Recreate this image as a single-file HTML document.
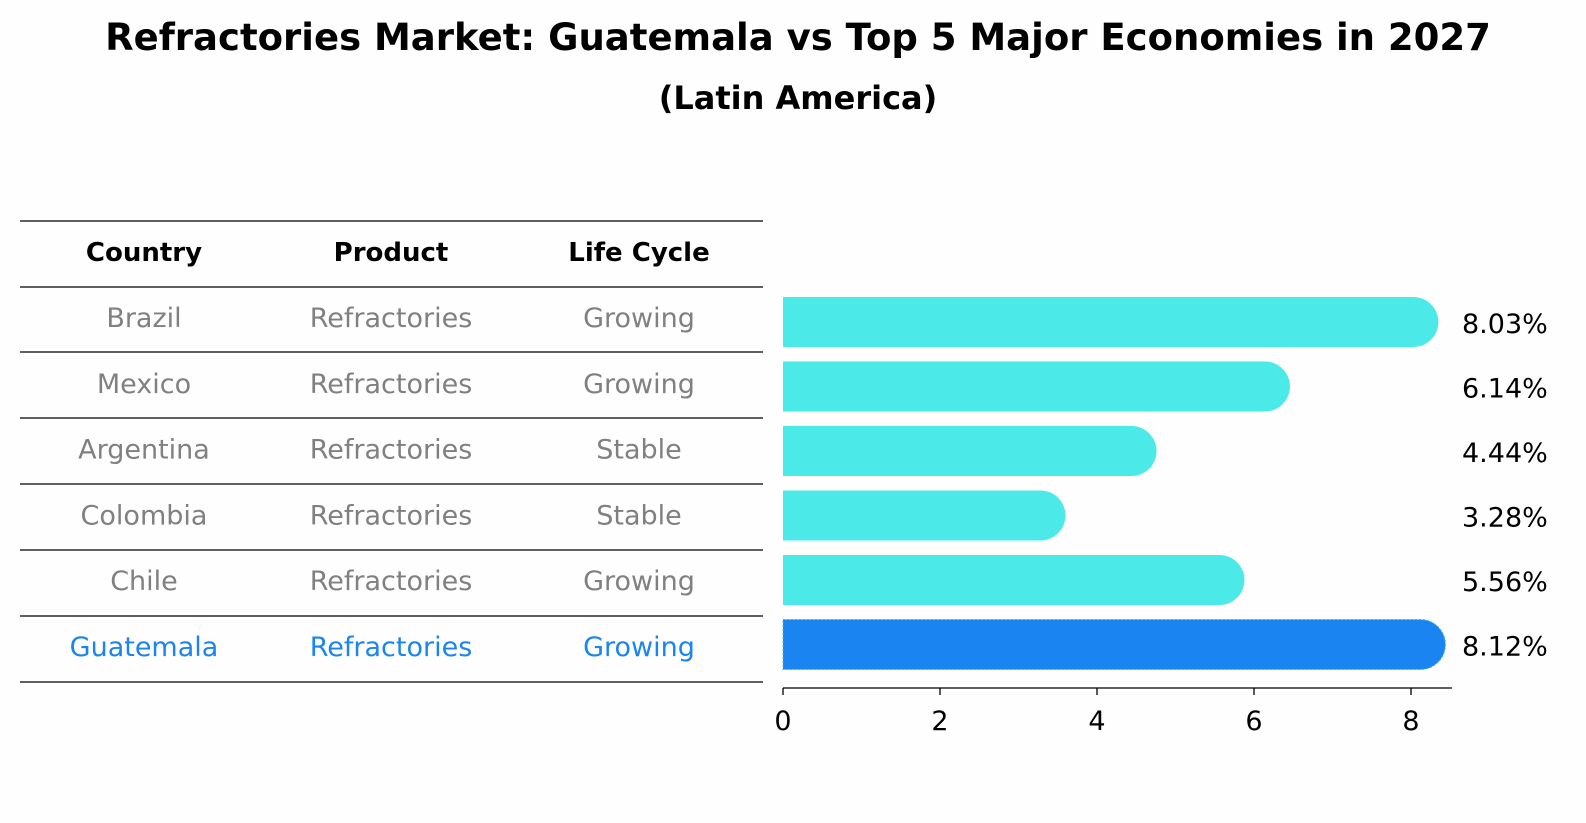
<!DOCTYPE html>
<html><head><meta charset="utf-8"><style>
html,body{margin:0;padding:0;overflow:hidden;background:#fff;width:1586px;height:823px;}
svg{display:block;}
svg text{font-family:"DejaVu Sans","Liberation Sans",sans-serif;}
</style></head><body>
<svg width="1586" height="823" xmlns="http://www.w3.org/2000/svg">
<rect width="1586" height="823" fill="#fefefe"/>
<text x="798" y="50" text-anchor="middle" font-size="37" font-weight="bold">Refractories Market: Guatemala vs Top 5 Major Economies in 2027</text>
<text x="798" y="109" text-anchor="middle" font-size="32" font-weight="bold">(Latin America)</text>
<g id="table"></g>
<g id="bars"></g>
</svg>
<script>
const countries=["Brazil","Mexico","Argentina","Colombia","Chile","Guatemala"];
const products=["Refractories","Refractories","Refractories","Refractories","Refractories","Refractories"];
const cycles=["Growing","Growing","Stable","Stable","Growing","Growing"];
const values=[8.03,6.14,4.44,3.28,5.56,8.12];
const ticks=[0,2,4,6,8];
const NS="http://www.w3.org/2000/svg";
function mk(tag,attrs,parent){const e=document.createElementNS(NS,tag);for(const k in attrs)e.setAttribute(k,attrs[k]);parent.appendChild(e);return e;}
const tbl=document.getElementById('table'),bars=document.getElementById('bars');
const lineYs=[221,287,352,418,484,550,616,682];
lineYs.forEach(y=>{const l=mk('line',{x1:20,x2:763,y1:y,y2:y,stroke:'#000','stroke-width':1.2},tbl);

});
const colX=[144,391,639];
["Country","Product","Life Cycle"].forEach((h,i)=>{const t=mk('text',{x:colX[i],y:261,'text-anchor':'middle','font-size':26,'font-weight':'bold'},tbl);t.textContent=h;

});
const xs=v=>783+v*78.5;
const rowY=i=>322+i*64.5;
countries.forEach((c,i)=>{
 const last=i===countries.length-1;
 const col=last?'#1a85f0':'#808080';
 [c,products[i],cycles[i]].forEach((s,j)=>{const t=mk('text',{x:colX[j],y:(327+i*65.8).toFixed(1),'text-anchor':'middle','font-size':27,fill:col},tbl);
 t.textContent=s;
 
 });
 const y=rowY(i),h=50,r=25,x1=xs(values[i]);
 const p=mk('path',{d:`M${xs(0)},${y-h/2} H${x1} A${r},${r} 0 0 1 ${x1},${y+h/2} H${xs(0)} Z`,fill:last?'#1a85f0':'#4beae8'},bars);
 if(last){p.setAttribute('stroke','#4bb0f0');p.setAttribute('stroke-dasharray','2,2');p.setAttribute('stroke-width','1');}
 
 
 const t=mk('text',{x:1462,y:y+11,'font-size':27},bars);t.textContent=values[i].toFixed(2)+'%';
 
 
});
const ax=mk('line',{x1:783,x2:1452,y1:688,y2:688,stroke:'#000','stroke-width':1.3},bars);


ticks.forEach(v=>{const l=mk('line',{x1:xs(v),x2:xs(v),y1:688,y2:695,stroke:'#000','stroke-width':1.3},bars);


const t=mk('text',{x:xs(v),y:730,'text-anchor':'middle','font-size':27},bars);t.textContent=v;

});
</script>
</body></html>
